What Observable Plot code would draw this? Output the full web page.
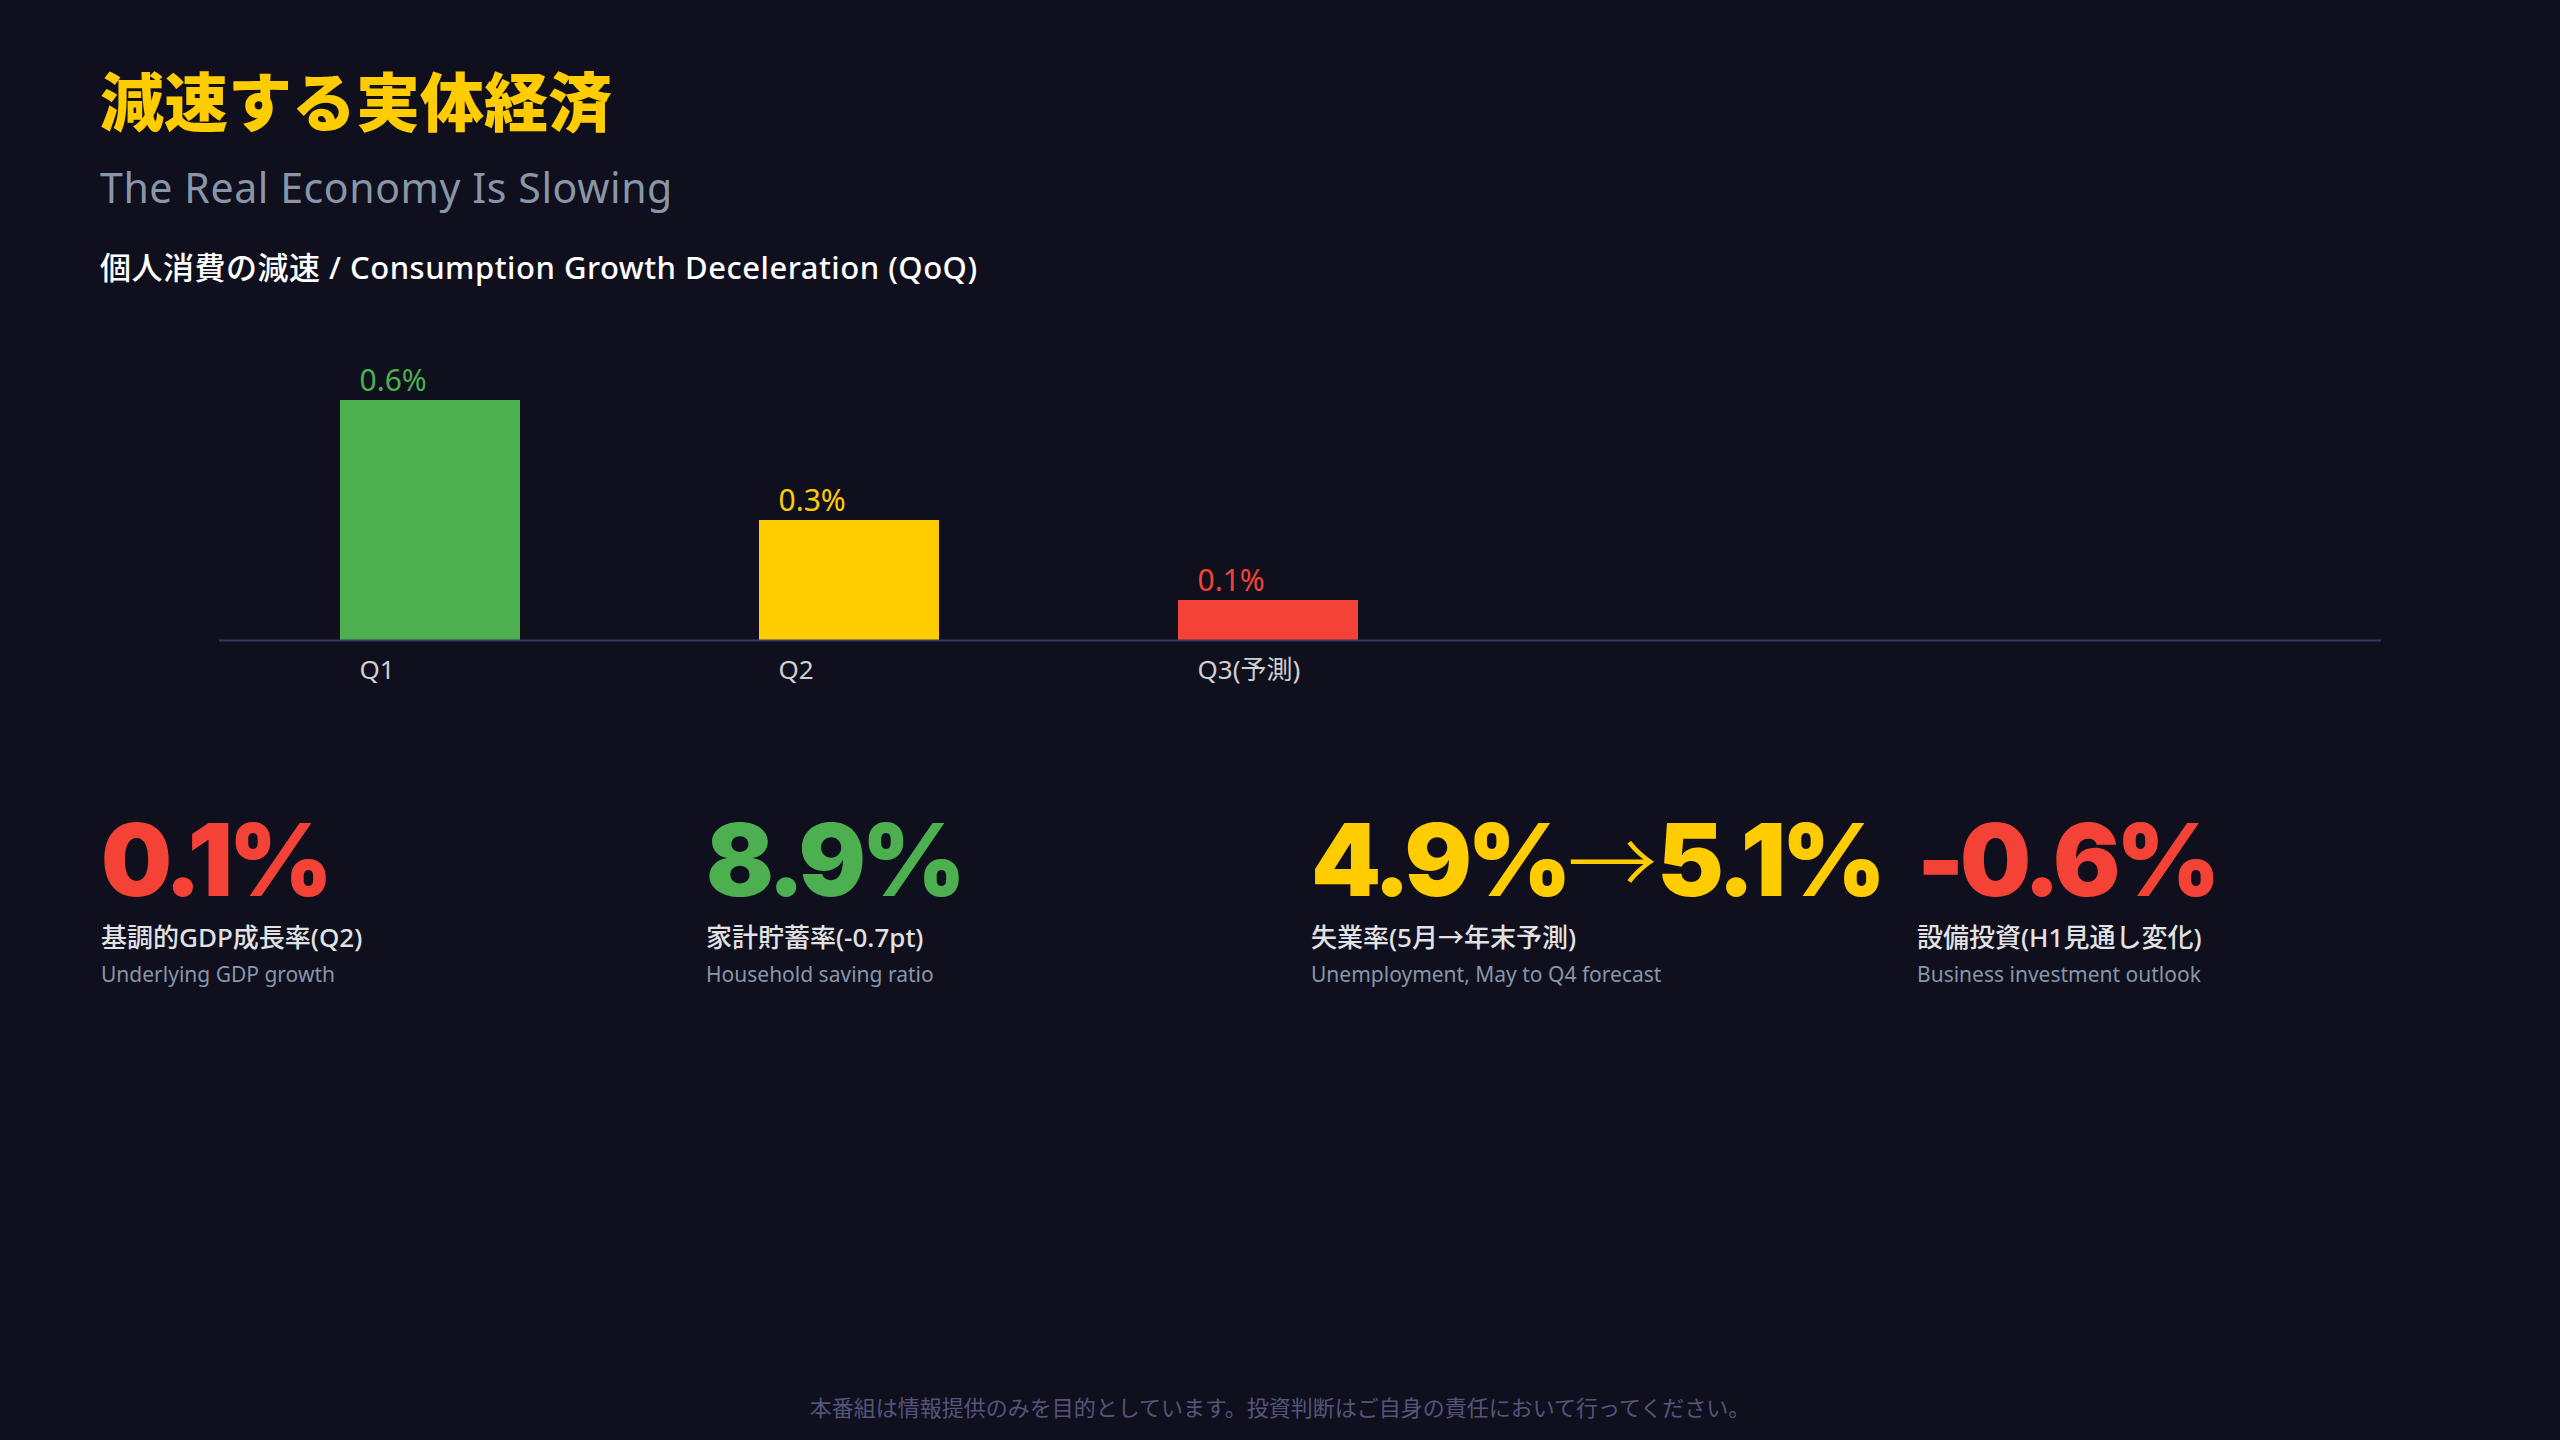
<!DOCTYPE html>
<html lang="ja">
<head>
<meta charset="utf-8">
<script src="https://cdn.jsdelivr.net/npm/d3@7"></script>
<script src="https://cdn.jsdelivr.net/npm/@observablehq/plot@0.6"></script>
<style>
  html, body { margin: 0; padding: 0; background: #0f0f1e; }
  #page { position: relative; width: 2560px; height: 1440px; background: #0f0f1e; overflow: hidden;
          font-family: "Noto Sans", "Noto Sans CJK JP", sans-serif; }
  .abs { position: absolute; white-space: nowrap; line-height: 1; }
  #title { left: 100px; top: 66px; font-size: 64px; font-weight: 900; color: #FFCC00; font-family: "Noto Sans CJK JP", sans-serif; }
  #subtitle { left: 100px; top: 167px; font-size: 41px; font-weight: 400; color: #8896a8; letter-spacing: 0.6px; }
  #heading { left: 100px; top: 252px; font-size: 31px; font-weight: 500; color: #ffffff; letter-spacing: 0.5px; }
  #chart { position: absolute; left: 0; top: 320px; }
  .kpi-value { font-family: "Inter", "Lato", sans-serif; font-size: 100px; font-weight: 900; letter-spacing: -4.5px; }
  .kpi-value .arrow { font-family: "Noto Sans CJK JP", sans-serif; font-weight: 300; letter-spacing: 0; font-size: 90px; }
  .kpi-label { font-size: 26px; font-weight: 500; color: #e2e2e2; }
  .kpi-sub { font-size: 21px; font-weight: 400; color: #8896a8; }
  #footer { left: 0; width: 2560px; text-align: center; top: 1395px; font-size: 22px; color: #55557a; font-family: "Noto Sans CJK JP", sans-serif; }
</style>
</head>
<body>
<div id="page">
  <div id="title" class="abs"></div>
  <div id="subtitle" class="abs"></div>
  <div id="heading" class="abs"></div>
  <div id="chart"></div>
  <div id="kpis"></div>
  <div id="footer" class="abs"></div>
</div>
<script>
const titleText = "減速する実体経済";
const subtitleText = "The Real Economy Is Slowing";
const headingText = "個人消費の減速 / Consumption Growth Deceleration (QoQ)";
const footerText = "本番組は情報提供のみを目的としています。投資判断はご自身の責任において行ってください。";

const quarters = ["Q1", "Q2", "Q3(予測)"];
const growth = [0.6, 0.3, 0.1];
const valueLabels = ["0.6%", "0.3%", "0.1%"];
const barColors = ["#4CAF50", "#FFCC00", "#F44336"];

const kpiValues = ["0.1%", "8.9%", "4.9%→5.1%", "-0.6%"];
const kpiLabels = ["基調的GDP成長率(Q2)", "家計貯蓄率(-0.7pt)", "失業率(5月→年末予測)", "設備投資(H1見通し変化)"];
const kpiSubs = ["Underlying GDP growth", "Household saving ratio", "Unemployment, May to Q4 forecast", "Business investment outlook"];
const kpiColors = ["#F44336", "#4CAF50", "#FFCC00", "#F44336"];

document.getElementById("title").textContent = titleText;
document.getElementById("subtitle").textContent = subtitleText;
document.getElementById("heading").textContent = headingText;
document.getElementById("footer").textContent = footerText;

const data = quarters.map((q, i) => ({q, v: growth[i], c: barColors[i], l: valueLabels[i]}));

const chart = Plot.plot({
  width: 2560,
  height: 400,
  marginLeft: 219,
  marginRight: 179,
  marginTop: 80,
  marginBottom: 80,
  x: {domain: quarters, range: [340, 1360], paddingInner: 240 / 420, paddingOuter: 0, align: 0},
  y: {domain: [0, 0.6], axis: null},
  color: {type: "identity"},
  style: {background: "transparent", fontFamily: "'Noto Sans', 'Noto Sans CJK JP', sans-serif", overflow: "visible", color: "#cfcfcf"},
  marks: [
    Plot.barY(data, {x: "q", y: "v", fill: "c"}),
    Plot.ruleY([0], {stroke: "#3a3a64", strokeWidth: 2}),
    Plot.text(data, {x: "q", y: "v", text: "l", fill: "c", fontSize: 30, textAnchor: "start", dx: -71, dy: -10, lineAnchor: "bottom"}),
    Plot.axisX({tickSize: 0, tickPadding: 20, fontSize: 26, fill: "#cfcfcf", textAnchor: "start", dx: -71, label: null})
  ]
});
document.getElementById("chart").appendChild(chart);

const kpiLeft = [101, 706, 1311, 1917];
const kpis = document.getElementById("kpis");
kpiValues.forEach((v, i) => {
  const val = document.createElement("div");
  val.className = "abs kpi-value";
  val.style.left = kpiLeft[i] + "px";
  val.style.top = "810px";
  val.style.color = kpiColors[i];
  const parts = v.split("→");
  parts.forEach((p, j) => {
    if (j > 0) {
      const a = document.createElement("span");
      a.className = "arrow";
      a.textContent = "→";
      val.appendChild(a);
    }
    val.appendChild(document.createTextNode(p));
  });
  kpis.appendChild(val);

  const lab = document.createElement("div");
  lab.className = "abs kpi-label";
  lab.style.left = kpiLeft[i] + "px";
  lab.style.top = "924px";
  lab.textContent = kpiLabels[i];
  kpis.appendChild(lab);

  const sub = document.createElement("div");
  sub.className = "abs kpi-sub";
  sub.style.left = kpiLeft[i] + "px";
  sub.style.top = "964px";
  sub.textContent = kpiSubs[i];
  kpis.appendChild(sub);
});
</script>
</body>
</html>
